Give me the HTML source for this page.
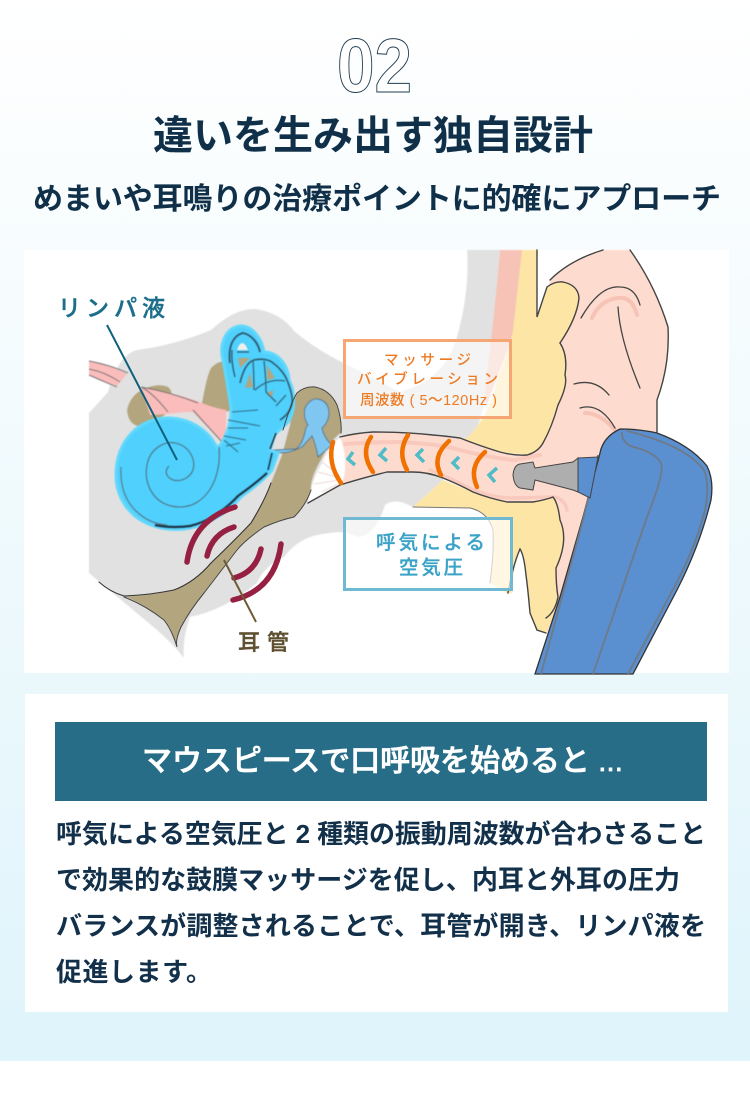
<!DOCTYPE html>
<html lang="ja"><head><meta charset="utf-8"><style>
html,body{margin:0;padding:0;width:750px;height:1100px;overflow:hidden;background:#fff}
svg{display:block}
text{font-family:"Liberation Sans","Noto Sans CJK JP",sans-serif}
</style></head><body>
<svg xmlns="http://www.w3.org/2000/svg" width="750" height="1100" viewBox="0 0 750 1100">
<defs>
<linearGradient id="bg" x1="0" y1="0" x2="0" y2="1"><stop offset="0" stop-color="#fff"/><stop offset="1" stop-color="#dff4fb"/></linearGradient>
<filter id="blur1" x="-5%" y="-5%" width="110%" height="110%"><feGaussianBlur stdDeviation="0.4"/></filter>
</defs>
<rect width="750" height="1061" fill="url(#bg)"/>
<text x="374.500" y="92" font-size="76" font-weight="700" fill="#fff" stroke="#1f3b4f" stroke-width="1" text-anchor="middle" textLength="75" lengthAdjust="spacingAndGlyphs">02</text>
<text x="153" y="149" font-size="40" font-weight="700" fill="#0f3048" textLength="440">違いを生み出す独自設計</text>
<text x="33" y="209" font-size="30" font-weight="700" fill="#0f3048" textLength="688">めまいや耳鳴りの治療ポイントに的確にアプローチ</text>
<rect x="24" y="250" width="705" height="423" fill="#fff"/>
<g filter="url(#blur1)">
<path d="M89 413 L108 392 Q118 355 137 350 Q175 345 211 330 Q235 308 255 309 Q280 312 295 332 Q320 352 344 363 L400 392 Q445 380 457 337 Q470 290 467 250 L500 250 Q494 320 488 380 Q482 425 470 440 L443 480 L413 507 Q395 497 385 505 Q375 537 357 537 Q345 530 330 533 Q300 535 284 557 Q265 565 257 583 Q225 610 190 617 Q182 640 184 658 Q170 640 145 620 L89 573 Z" fill="#e1e1e1"/>
<path d="M500 250 L523 250 L513 335 L487 405 L484 400 Q494 320 500 250 Z" fill="#f6c3b6"/>
<path d="M550 280 Q570 260 603 250 L630 250 Q655 285 668 327 Q670 365 657 400 L657 440 L600 460 L580 560 L547 633 L537 600 L530 453 Z" fill="#fddccf"/>
<path d="M522 250 L537 250 L537 317 L547 287 Q555 281 563 282 Q578 285 579 298 Q577 318 560 343 Q570 365 565 385 Q558 405 550 427 Q545 445 530 455 L503 453 L455 440 L467 438 Q490 415 497 380 Q512 340 513 330 Z" fill="#fde5a6"/>
<path d="M413 507 L443 480 L473 492 L507 502 L553 497 Q558 503 560 520 Q569 540 556 568 Q556 585 558 597 L553 618 L546 633 L537 630 L530 613 Q528 590 526 575 Q524 555 520 549 Q513 565 512 593 L507 593 L490 583 Q494 555 493 530 Q488 512 470 508 Z" fill="#fde5a6"/>
<path d="M340 437 Q356 433 373 432 Q405 432 433 435 Q445 436 460 438 Q480 446 500 452 Q515 456 527 455 Q538 452 543 443 L580 458 L580 492 L553 497 Q545 500 533 502 L507 502 Q488 498 473 492 Q458 484 443 478 Q428 472 413 472 L387 472 Q362 478 340 485 Z" fill="#fddccf"/>
<path d="M340 437 Q346 452 345 467 Q345 478 341 484 L308 503 Q312 480 320 467 Q328 448 340 437 Z" fill="#fff"/>
<path d="M340 476 L322 462 M340 478 L318 472 M340 480 L314 484 M342 482 L322 492" stroke="#ecd6d0" stroke-width="1" fill="none"/>
<path d="M120 594 Q124 596 130 596 Q150 595 174 590 Q195 582 211 563 Q235 540 251 523 Q265 500 271 483 L282 455 L290 425 Q292 400 297 393 Q305 386 315 387 Q330 390 337 405 Q342 420 341 433 Q332 438 322 458 Q310 478 311 490 Q306 505 294 517 Q280 520 264 527 Q245 540 237 550 L204 593 Q190 610 181 627 Q175 640 177 647 Q172 630 164 620 Q145 605 120 594 Z" fill="#b3a57d"/>
<path d="M202 403 Q207 375 211 368 Q218 360 226 362 L236 410 L205 415 Z" fill="#b3a57d"/>
<path d="M127 410 Q130 395 145 388 Q160 383 168 387 Q175 392 170 410 Q155 425 141 427 Q128 425 127 410 Z" fill="#b3a57d"/>
<path d="M89 361 Q110 365 127 374 L117 386 Q100 380 89 375 Z" fill="#fbbcbc"/>
<path d="M89 361 Q110 365 128 373 M89 369 Q105 372 120 382 M89 375 Q105 382 117 387" stroke="#6e6e6e" fill="none" stroke-width="1"/>
<path d="M141 387 Q170 392 195 400 Q212 408 226 410 L226 430 L222 442 Q205 425 193 412 Q180 412 168 414 L150 415 Z" fill="#fbbcbc"/>
<path d="M141 387 Q170 392 198 403 M193 410 L222 442 M168 412 Q152 392 141 387" stroke="#6e6e6e" fill="none" stroke-width="1"/>
<path d="M274 450 L296 449 Q302 445 305 432 Q306 426 308 425 Q303 418 305 408 Q310 398 318 399 Q328 401 329 412 Q329 422 322 428 Q324 438 332 445 L318 457 Q316 445 312 436 L302 447 Q290 453 280 453 Z" fill="#7fc6f0" stroke="#4a7088" stroke-width=".9"/>
</g>
<path d="M116 475 C116 440 140 417 170 418 C192 419 210 432 217 448 L221 444 C228 432 232 420 231 408 C229 395 226 375 223 360 C219 345 225 328 240 326 C253 325 262 340 264 352 C278 352 288 365 289 380 C295 392 296 410 288 422 C283 428 276 432 274 436 L270 450 L278 453 L272 470 C262 482 250 490 241 497 C228 512 210 524 190 528 C172 532 150 528 135 516 C122 505 116 490 116 475 Z" fill="#4fd0fd" stroke="#61d8fd" stroke-width="3" filter="url(#blur1)"/>
<g fill="none" filter="url(#blur1)">
<path d="M267 473 C255 484 246 490 238 496 C225 510 208 522 190 526 C175 528 165 527 155 525" stroke="#1a3345" stroke-width="2.200"/>
<path d="M121 467 C120 485 125 500 135 510 C145 520 155 524 167 525" stroke="#5b6f7a" stroke-width="1"/>
<path d="M219 447 C222 480 205 507 180 507 C155 507 143 485 147 465 C150 448 165 441 175 443 C190 446 196 460 193 470 C188 482 172 484 167 475 C165 471 167 468 169 466" stroke="#4f7385" stroke-width="1.100"/>
<path d="M237 350 Q242 336 248 350 Z" fill="#f1f1ea" stroke="none"/>
<path d="M238 358 L250 358 L240 368 Z" fill="#b3a57d" stroke="none"/>
<path d="M250 373 L253 387 L245 388 Z" fill="#b3a57d" stroke="none"/>
<path d="M267 365 L275 378 L267 380 Z" fill="#b3a57d" stroke="none"/>
<path d="M267 393 L273 390 L272 398 Z" fill="#b3a57d" stroke="none"/>
<path d="M230 363 C228 348 232 336 243 333 C252 335 258 343 260 352" stroke="#2f5a6e" stroke-width="1.800"/>
<path d="M232 350 Q231 362 235 377 M237 352 L249 352" stroke="#2f5a6e" stroke-width="1.300"/>
<path d="M240 383 C243 370 248 362 254 360 C262 358 270 360 273 363 C280 368 285 375 287 380 C291 390 293 398 292 403 C291 410 286 416 280 420" stroke="#2f5a6e" stroke-width="1.600"/>
<path d="M253 360 Q254 375 254 390 M264 361 Q266 378 266 392 M255 390 Q268 378 285 381 M266 392 L276 402 M286 395 L276 406" stroke="#33667c" stroke-width="1.300"/>
<path d="M232 412 L258 410 M228 420 L260 426 M228 428 L248 428 M224 440 L238 452 M226 446 L240 443 M224 436 L246 440" stroke="#33708a" stroke-width="1.100"/>
<path d="M272 453 L268 470 M276 433 L270 449" stroke="#1a3345" stroke-width="1.500"/>
</g>
<g fill="none" stroke-linecap="round">
<path d="M345 444 Q370 442 400 442 Q440 444 460 450 Q490 458 515 460 L540 455" stroke="#f8c9bc" stroke-width="4"/>
<path d="M430 470 Q450 478 473 490 Q495 498 513 498 L555 497 Q565 500 567 510" stroke="#f8c9bc" stroke-width="3.500"/>
<path d="M308 503 L340 485 Q362 478 387 472 L413 472 Q428 472 443 478 Q458 484 473 492 Q488 498 507 502 L533 502 Q545 500 553 497 Q558 503 560 520 Q569 540 556 568 Q556 585 558 597 Q555 612 546 618" stroke="#444" stroke-width="1.400"/>
<path d="M340 437 Q356 433 373 432 Q405 432 433 435 Q445 436 460 438 Q480 446 500 452 Q515 456 527 455 Q538 452 543 443 Q552 427 558 405 Q568 385 565 375 Q568 355 560 343" stroke="#444" stroke-width="1.400"/>
<path d="M560 343 Q577 318 579 298 Q578 285 563 282 Q555 281 547 287 L537 317 L537 250" stroke="#444" stroke-width="1.400"/>
<path d="M550 280 Q570 260 603 250 M630 250 Q655 285 668 327 Q670 365 657 400 L657 432" stroke="#444" stroke-width="1.400"/>
<path d="M546 633 L537 630 L530 613 Q528 590 526 575 Q524 555 520 549 Q513 565 508 593" stroke="#444" stroke-width="1.400"/>
<path d="M490 583 Q494 555 493 530 Q488 512 470 508 L413 507" stroke="#777" stroke-width="1"/>
<path d="M592 318 Q600 300 618 298 Q632 296 637 315 M585 413 Q600 413 615 430" stroke="#f6c3b6" stroke-width="4"/>
<path d="M581 318 Q600 285 620 287 Q635 287 640 305 M618 307 Q620 340 640 388 M574 384 Q595 378 609 395 M580 408 Q600 402 615 428" stroke="#444" stroke-width="1.300"/>
<path d="M99 582 Q110 592 124 596 Q150 595 174 590 Q195 582 211 563 Q235 540 251 523 Q265 500 271 483" stroke="#333" stroke-width="1.100"/>
<path d="M311 490 Q306 505 294 517 Q280 520 264 527 Q245 540 237 550 L204 593 Q190 610 181 627 Q175 640 177 647 Q172 630 164 620 Q145 605 124 597 M283 430 Q292 400 297 393 Q305 386 315 387 Q330 390 337 405 Q342 420 341 433" stroke="#444" stroke-width="1"/>
</g>
<path d="M600 453 Q603 437 620 429 Q640 429 657 433 Q690 445 707 466 Q714 480 711 500 Q700 545 677 590 L633 674 L535 674 L560 597 L583 517 Z" fill="#5a8fd0" stroke="#333" stroke-width="1.300"/>
<g fill="none" stroke="#6e7a88" stroke-width="1.800">
<path d="M598 455 L587 503 L583 520 L541 674"/>
<path d="M622 432 Q621 440 630 446 Q655 452 661 463 Q665 472 647 517 L593 674"/>
<path d="M627 431 Q685 445 704 470 Q710 485 705 510 Q695 550 670 595 L628 674"/>
</g>
<path d="M578 458 L598 457 L590 498 L578 492 Z" fill="#5a8fd0" stroke="#444" stroke-width="1"/>
<path d="M513 475 Q514 465 520 464 L533 462 L535 468 L573 462 L578 458 L578 492 L573 490 L535 480 L533 490 L520 488 Q514 486 513 475 Z" fill="#aeaeae" stroke="#444" stroke-width="1"/>
<rect x="344.500" y="340.500" width="166" height="77" fill="#fff" fill-opacity=".62" stroke="#f6a672" stroke-width="3"/>
<rect x="344.500" y="518.500" width="167" height="71" fill="#fff" fill-opacity=".68" stroke="#6fb9d3" stroke-width="3"/>
<g fill="none" stroke="#f07000" stroke-width="4.500" stroke-linecap="round">
<path d="M333 442 Q327 463 341 483"/><path d="M371 437 Q360 453 373 472"/><path d="M408 435 Q397 452 407 470"/><path d="M449 441 Q431 457 441 475"/><path d="M485 452 Q468 467 477 487"/>
</g>
<g fill="none" stroke="#4fbcc8" stroke-width="3.500">
<path d="M353 452 L348 459 L355 465"/><path d="M386 448 L380 455 L387 461"/><path d="M423 449 L417 455 L424 462"/><path d="M459 457 L453 463 L459 469"/><path d="M497 468 L489 475 L495 482"/>
</g>
<g fill="none" stroke="#962042" stroke-width="5.500" stroke-linecap="round">
<path d="M187 562 Q193 520 235 507"/><path d="M207 556 Q212 534 234 527"/><path d="M234 578 Q256 572 261 549"/><path d="M233 600 Q275 590 281 544"/>
</g>
<path d="M107 325 L177 460" stroke="#0f607c" stroke-width="2"/>
<path d="M224 560 L256 622" stroke="#6d5c35" stroke-width="2"/>
<text x="58" y="316" font-size="23" font-weight="500" fill="#1c6e8a" stroke="#1c6e8a" stroke-width=".4" textLength="107">リンパ液</text>
<text x="238" y="650" font-size="22" font-weight="500" fill="#5e5030" stroke="#5e5030" stroke-width=".4" textLength="51">耳管</text>
<g fill="#ee7a22" font-size="14.500" font-weight="500">
<text x="384" y="365" textLength="87">マッサージ</text>
<text x="357" y="384" textLength="141">バイブレーション</text>
<text x="360" y="405" textLength="137">周波数 ( 5～120Hz )</text>
</g>
<g fill="#3ba3c7" stroke="#3ba3c7" stroke-width=".3" font-size="19.500" font-weight="500">
<text x="376" y="549" textLength="109">呼気による</text>
<text x="399" y="574" textLength="64">空気圧</text>
</g>
<rect x="25" y="694" width="703" height="318" fill="#fff"/>
<rect x="55" y="722" width="652" height="79" fill="#276d87"/>
<text x="142" y="771" font-size="30" font-weight="500" fill="#fff" stroke="#fff" stroke-width=".7" textLength="481">マウスピースで口呼吸を始めると ...</text>
<g font-size="26" font-weight="700" fill="#12304a">
<text x="56" y="843" textLength="650">呼気による空気圧と 2 種類の振動周波数が合わさること</text>
<text x="56" y="889" textLength="624">で効果的な鼓膜マッサージを促し、内耳と外耳の圧力</text>
<text x="56" y="935" textLength="650">バランスが調整されることで、耳管が開き、リンパ液を</text>
<text x="56" y="981" textLength="156">促進します。</text>
</g>
</svg>
</body></html>
